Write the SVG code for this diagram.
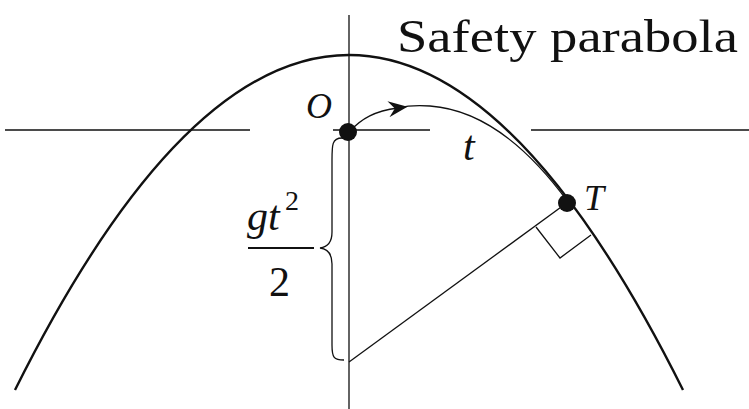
<svg xmlns="http://www.w3.org/2000/svg" width="749" height="409" viewBox="0 0 749 409">
<style>
.ln{stroke:#111;fill:none;stroke-width:1.3}
.it{font-family:'Liberation Serif','DejaVu Serif','Times New Roman',serif;font-style:italic;fill:#111}
.rm{font-family:'Liberation Serif','DejaVu Serif','Times New Roman',serif;fill:#111}
</style>
<defs><marker id="ah" viewBox="0 0 12 10" refX="6" refY="5" markerWidth="22" markerHeight="16" markerUnits="userSpaceOnUse" orient="auto"><path d="M0,0 L12,5 L0,10 L4,5 Z" fill="#111"/></marker></defs>
<rect width="749" height="409" fill="#fff"/>
<g id="axes">
<path class="ln" d="M349,15 V409 M5,130 H250 M333,130 H430 M531,130 H749"/>
</g>
<g id="parabola"><path class="ln" style="stroke-width:2.4" d="M15,390 Q349,-280 683,390"/></g>
<g id="connectors">
<path class="ln" d="M349,132 C362,118 375,111 398,108" marker-end="url(#ah)"/>
<path class="ln" d="M398,108 C410,105 418,105 430,106 C485,110 530,150 568,202"/>
<path class="ln" d="M349,362 L568,202"/>
<path class="ln" d="M536,227 L560,258 L591,235"/>
<path class="ln" d="M342,138 C332,138 332,145 332,160 V232 C332,242 328,247 320,248 C328,249 332,254 332,264 V345 C332,358 334,360 344,360"/>
</g>
<g id="O"><circle cx="348" cy="132" r="9" fill="#111"/><text class="it" x="306" y="118" font-size="36" font-family="Liberation Serif, serif" font-style="italic">O</text></g>
<g id="T"><circle cx="567" cy="203" r="9" fill="#111"/><text class="it" x="584" y="210" font-size="36" font-family="Liberation Serif, serif" font-style="italic">T</text></g>
<text class="it" x="463" y="160" font-size="42" font-family="Liberation Serif, serif" font-style="italic">t</text>
<g id="frac">
<text class="it" x="247" y="230" font-size="42" font-family="Liberation Serif, serif" font-style="italic">gt</text><text class="rm" x="285" y="210" font-size="28" font-family="Liberation Serif, serif">2</text>
<path d="M248,248 H314" stroke="#111" stroke-width="2"/>
<text class="rm" x="269" y="296" font-size="42" font-family="Liberation Serif, serif">2</text>
</g>
<text class="rm" x="397" y="52" font-size="46" font-family="Liberation Serif, serif" textLength="341" lengthAdjust="spacingAndGlyphs">Safety parabola</text>
</svg>
